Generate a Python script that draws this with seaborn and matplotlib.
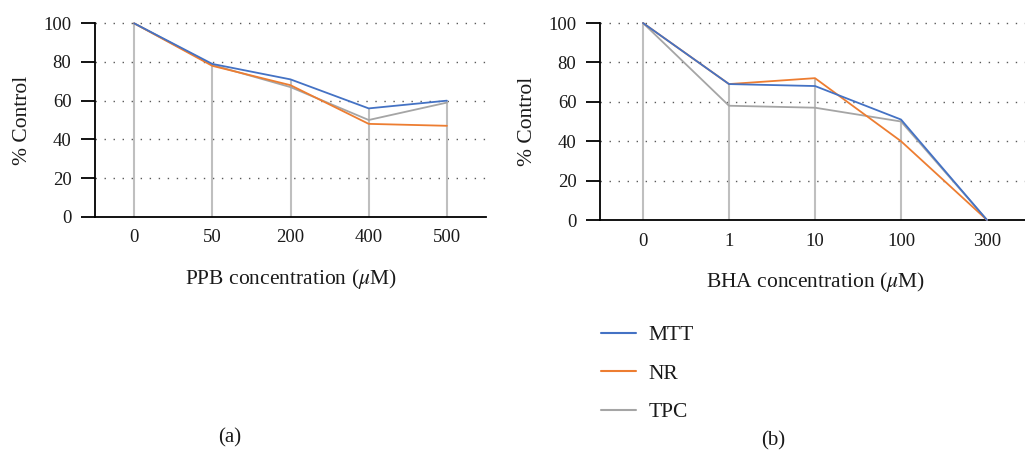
import matplotlib
matplotlib.use("Agg")
import matplotlib.pyplot as plt
import seaborn as sns
import pandas as pd
from matplotlib.lines import Line2D

# ---- data ----
ppb_conc = ["0", "50", "200", "400", "500"]
ppb_mtt = [100, 79, 71, 56, 60]
ppb_nr = [100, 78, 68, 48, 47]
ppb_tpc = [100, 78.5, 67, 50, 59]

bha_conc = ["0", "1", "10", "100", "300"]
bha_mtt = [100, 69, 68, 51, 0]
bha_nr = [100, 69, 72, 40, 0]
bha_tpc = [100, 58, 57, 50, 0]

series_names = ["MTT", "NR", "TPC"]
colors = {"MTT": "#4472C4", "NR": "#ED7D31", "TPC": "#A5A5A5"}
yticks = [0, 20, 40, 60, 80, 100]

sns.set_theme(style="white")
plt.rcParams["font.family"] = ["Liberation Serif", "DejaVu Serif"]
plt.rcParams["mathtext.fontset"] = "stix"
plt.rcParams["text.color"] = "#1a1a1a"
plt.rcParams["axes.labelcolor"] = "#1a1a1a"
plt.rcParams["xtick.color"] = "#1a1a1a"
plt.rcParams["ytick.color"] = "#1a1a1a"

fig = plt.figure(figsize=(10.25, 4.57), dpi=100)
ax1 = fig.add_axes([95 / 1025, 1 - 216.7 / 457, (486 - 95) / 1025, (216.7 - 23.3) / 457])
ax2 = fig.add_axes([600 / 1025, 1 - 220 / 457, (1030 - 600) / 1025, (220 - 23) / 457])


def make_df(conc, mtt, nr, tpc):
    rows = []
    for name, vals in zip(series_names, [mtt, nr, tpc]):
        for c, v in zip(conc, vals):
            rows.append({"conc": c, "value": v, "series": name})
    return pd.DataFrame(rows)


def draw(ax, conc, mtt, nr, tpc, xlabel):
    df = make_df(conc, mtt, nr, tpc)
    for y in yticks[1:]:
        ax.axhline(y, color="#595959", lw=1.0, ls=(0, (1, 5.5)), zorder=0, clip_on=False)
    tops = [max(a, b, c) for a, b, c in zip(mtt, nr, tpc)]
    ax.vlines(conc, 0, tops, color="#BFBFBF", lw=1.5, zorder=1, clip_on=False)
    sns.lineplot(data=df, x="conc", y="value", hue="series", palette=colors,
                 hue_order=["TPC", "NR", "MTT"], sort=False, lw=1.3, ax=ax,
                 legend=False, zorder=3, clip_on=False)
    ax.set_xlim(-0.5, 4.5)
    ax.set_ylim(0, 100)
    ax.set_yticks(yticks)
    ax.set_yticklabels([str(t) for t in yticks], fontsize=13.5)
    ax.tick_params(axis="y", direction="out", length=10, width=1.3, color="black", pad=7, left=True)
    ax.tick_params(axis="x", length=0, pad=9, labelsize=13.5)
    for s in ["top", "right"]:
        ax.spines[s].set_visible(False)
    for s in ["left", "bottom"]:
        ax.spines[s].set_color("black")
        ax.spines[s].set_linewidth(1.3)
    ax.set_xlabel(xlabel, fontsize=15.5, labelpad=15)
    ax.set_ylabel("% Control", fontsize=15.5, labelpad=8)
    ax.set_facecolor("white")


draw(ax1, ppb_conc, ppb_mtt, ppb_nr, ppb_tpc, r"PPB concentration ($\mu$M)")
draw(ax2, bha_conc, bha_mtt, bha_nr, bha_tpc, r"BHA concentration ($\mu$M)")

handles = [Line2D([], [], color=colors[n], lw=1.5) for n in series_names]
fig.legend(handles, series_names, loc="upper left", bbox_to_anchor=(582 / 1025, 1 - 306 / 457),
           frameon=False, fontsize=15.5, handlelength=1.6, handletextpad=0.6, labelspacing=0.85)

fig.text(230 / 1025, 1 - 438 / 457, "(a)", ha="center", va="center", fontsize=15)
fig.text(773 / 1025, 1 - 441 / 457, "(b)", ha="center", va="center", fontsize=15)

fig.savefig("out.png", dpi=100, facecolor="white")
